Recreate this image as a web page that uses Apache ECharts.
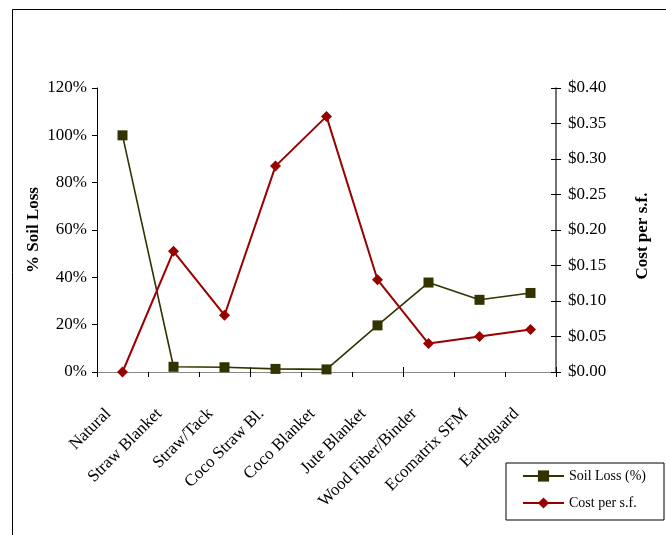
<!DOCTYPE html>
<html>
<head>
<meta charset="utf-8">
<script src="https://cdn.jsdelivr.net/npm/echarts@6/dist/echarts.min.js"></script>
<style>
html,body{margin:0;padding:0;background:#fff;}
#c{width:666px;height:535px;}
</style>
</head>
<body>
<div id="c"></div>
<script>
var categories = ['Natural','Straw Blanket','Straw/Tack','Coco Straw Bl.','Coco Blanket','Jute Blanket','Wood Fiber/Binder','Ecomatrix SFM','Earthguard'];
var soilLoss = [100, 2.2, 2.0, 1.3, 1.1, 19.7, 37.8, 30.5, 33.4];
var costPerSf = [0, 0.17, 0.08, 0.29, 0.36, 0.13, 0.04, 0.05, 0.06];
var seriesNames = ['Soil Loss (%)', 'Cost per s.f.'];
var axisNames = ['% Soil Loss', 'Cost per s.f.'];

var FONT = "'Liberation Serif','Times New Roman',serif";
var chart = echarts.init(document.getElementById('c'), null, {renderer:'canvas'});
chart.setOption({
  backgroundColor:'#fff',
  animation:false,
  graphic:[{
    type:'rect', shape:{x:12.5, y:9.5, width:700, height:600},
    style:{fill:'none', stroke:'#000', lineWidth:1}, silent:true, z:-1
  }],
  grid:{left:97, right:110, top:88, bottom:163},
  legend:{
    orient:'vertical', left:506, top:463,
    padding:[6,18,10,16],
    borderColor:'#000', borderWidth:1,
    itemWidth:41, itemHeight:14, itemGap:13,
    textStyle:{fontFamily:FONT, fontSize:14, color:'#000'},
    data:seriesNames
  },
  xAxis:[{
    type:'category', data:categories, position:'bottom', boundaryGap:true,
    axisLine:{lineStyle:{color:'#000', width:1}},
    axisTick:{show:true, length:5, inside:false, lineStyle:{color:'#000'}},
    axisLabel:{interval:0, rotate:45, margin:25, padding:[0,20,0,0], fontFamily:FONT, fontSize:17, color:'#000'},
    splitLine:{show:false}
  },{
    type:'category', data:categories, position:'bottom', boundaryGap:true,
    axisLine:{show:false},
    axisTick:{show:true, length:5, inside:true, lineStyle:{color:'#000'}},
    axisLabel:{show:false}, splitLine:{show:false}
  },{
    type:'category', data:categories, position:'top', boundaryGap:true,
    axisLine:{lineStyle:{color:'#888', width:1}},
    axisTick:{show:false}, axisLabel:{show:false}, splitLine:{show:false}
  }],
  yAxis:[{
    type:'value', min:0, max:120, interval:20, position:'left',
    name:axisNames[0], nameLocation:'middle', nameRotate:90, nameGap:55, nameMoveOverlap:false,
    nameTextStyle:{fontFamily:FONT, fontSize:17, fontWeight:'bold', color:'#000'},
    axisLine:{show:true, lineStyle:{color:'#000', width:1}},
    axisTick:{show:true, length:5, lineStyle:{color:'#000'}},
    axisLabel:{fontFamily:FONT, fontSize:17, color:'#000', margin:10, formatter:function(v){return v+'%';}},
    splitLine:{show:false}
  },{
    type:'value', min:0, max:0.4, interval:0.05, position:'right',
    name:axisNames[1], nameLocation:'middle', nameRotate:90, nameGap:78, nameMoveOverlap:false,
    nameTextStyle:{fontFamily:FONT, fontSize:17, fontWeight:'bold', color:'#000', padding:[0,12,0,0]},
    axisLine:{show:true, lineStyle:{color:'#444', width:1.5}},
    axisTick:{show:true, length:5, lineStyle:{color:'#000'}},
    axisLabel:{fontFamily:FONT, fontSize:17, color:'#000', margin:12, formatter:function(v){return '$'+v.toFixed(2);}},
    splitLine:{show:false}
  },{
    type:'value', min:0, max:0.4, interval:0.05, position:'right',
    axisLine:{show:false},
    axisTick:{show:true, length:5, inside:true, lineStyle:{color:'#000'}},
    axisLabel:{show:false}, splitLine:{show:false}
  }],
  series:[{
    name:seriesNames[0], type:'line', data:soilLoss, xAxisIndex:0, yAxisIndex:0,
    symbol:'rect', symbolSize:10,
    lineStyle:{color:'#333300', width:1.6},
    itemStyle:{color:'#333300', borderColor:'#333300', borderWidth:0}
  },{
    name:seriesNames[1], type:'line', data:costPerSf, xAxisIndex:0, yAxisIndex:1,
    symbol:'diamond', symbolSize:[11,11],
    lineStyle:{color:'#990000', width:2},
    itemStyle:{color:'#990000', borderWidth:0}
  }]
});
</script>
</body>
</html>
